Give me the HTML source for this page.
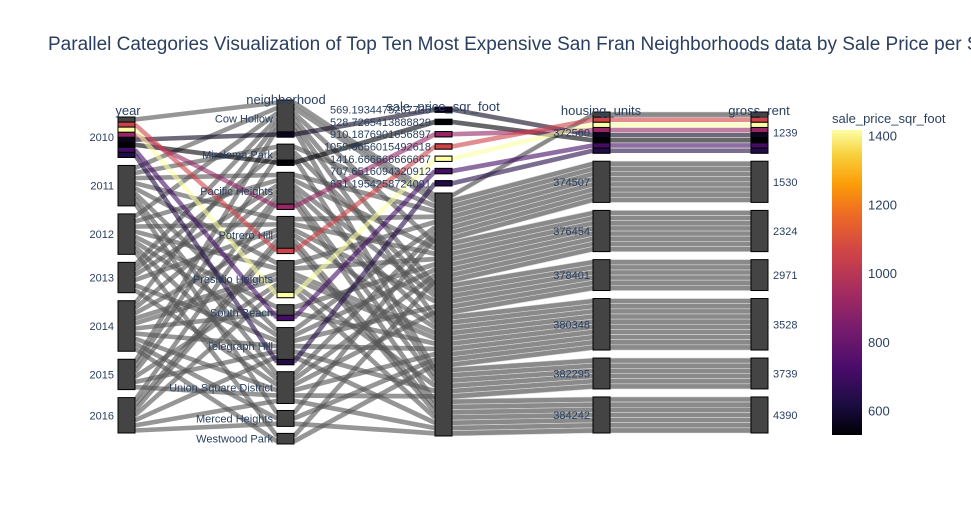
<!DOCTYPE html>
<html><head><meta charset="utf-8">
<style>
html,body{margin:0;padding:0;background:#fff;}
svg{display:block;font-family:"Liberation Sans",Arial,sans-serif;}
</style></head>
<body>
<svg id="chart" width="971" height="525" viewBox="0 0 971 525">
  <defs>
    <linearGradient id="inferno" x1="0" y1="1" x2="0" y2="0">
      <stop offset="0" stop-color="#000004"/>
      <stop offset="0.1" stop-color="#1b0c41"/>
      <stop offset="0.22" stop-color="#4a0c6b"/>
      <stop offset="0.35" stop-color="#781c6d"/>
      <stop offset="0.47" stop-color="#a52c60"/>
      <stop offset="0.6" stop-color="#cf4446"/>
      <stop offset="0.72" stop-color="#ed6925"/>
      <stop offset="0.82" stop-color="#fb9b06"/>
      <stop offset="0.92" stop-color="#f7d13d"/>
      <stop offset="1" stop-color="#fcffa4"/>
    </linearGradient>
  </defs>
  <text x="48" y="50" font-size="19" fill="#2a3f5f">Parallel Categories Visualization of Top Ten Most Expensive San Fran Neighborhoods data by Sale Price per Square Foot</text>
  <g id="ribbons"></g>
  <g id="bars"></g>
  <g id="labels"></g>
  <g>
    <text x="832" y="123" font-size="13" fill="#2a3f5f">sale_price_sqr_foot</text>
    <rect x="832" y="130" width="30" height="305" fill="url(#inferno)"/>
    <g id="cbticks"></g>
  </g>
</svg>
<script>
const years = ["2010","2011","2012","2013","2014","2015","2016"];
const neighborhoods = ["Cow Hollow","Miraloma Park","Pacific Heights","Potrero Hill","Presidio Heights","South Beach","Telegraph Hill","Union Square District","Merced Heights","Westwood Park"];
const priceCats = ["569.1934475267735","528.7265413888829","910.1876901656897","1059.0656015492618","1416.666666666667","707.6516094320912","631.1954258724091"];
const housingUnits = ["372560","374507","376454","378401","380348","382295","384242"];
const grossRent = ["1239","1530","2324","2971","3528","3739","4390"];
const coloredPrice = [569.19, 528.73, 910.19, 1059.07, 1416.67, 707.65, 631.20];
const coloredNeighborhood = [0,1,2,3,4,5,6];
const coloredYearOrder = [3,4,2,0,1,5,6];
const greyMatrix = [
  [1,0,0,0,0,0,0,0,0,0],
  [1,1,1,1,1,0,1,1,1,0],
  [1,0,1,1,1,1,1,1,0,1],
  [1,1,1,1,0,0,1,1,0,0],
  [1,0,1,1,2,1,1,1,1,1],
  [1,1,1,0,1,0,1,1,0,0],
  [0,0,1,2,1,0,1,1,1,0]
];
const cbTicks = [600,800,1000,1200,1400];
const cMin = 528.73, cMax = 1416.67;

const NS="http://www.w3.org/2000/svg";
function mk(t,a,p){const e=document.createElementNS(NS,t);for(const k in a)e.setAttribute(k,a[k]);(p||document.getElementById('chart')).appendChild(e);return e;}

const stops=[[0,[0,0,4]],[0.1,[27,12,65]],[0.22,[74,12,107]],[0.35,[120,28,109]],[0.47,[165,44,96]],[0.6,[207,68,70]],[0.72,[237,105,37]],[0.82,[251,155,6]],[0.92,[247,209,61]],[1,[252,255,164]]];
function colorOf(v){let t=(v-cMin)/(cMax-cMin);t=Math.max(0,Math.min(1,t));for(let i=1;i<stops.length;i++){if(t<=stops[i][0]){const a=stops[i-1],b=stops[i];const f=(t-a[0])/(b[0]-a[0]);const c=a[1].map((x,j)=>Math.round(x+(b[1][j]-x)*f));return `rgb(${c})`;}}return 'rgb(252,255,164)';}

const rows=[];
greyMatrix.forEach((r,yi)=>r.forEach((n,ni)=>{for(let k=0;k<n;k++)rows.push({y:yi,n:ni,p:7,c:null,o:0});}));
coloredPrice.forEach((v,i)=>rows.push({y:0,n:coloredNeighborhood[i],p:i,c:colorOf(v),o:1+coloredYearOrder.indexOf(i)}));

const axes=[
  {key:'y',cats:years.length,x:118,top:117,bot:433,gap:8,title:'year',tx:128,ty:115,labels:years,lx:114,anchor:'end'},
  {key:'n',cats:neighborhoods.length,x:277,top:100,bot:444,gap:7,title:'neighborhood',tx:286,ty:104,labels:neighborhoods,lx:273,anchor:'end'},
  {key:'p',cats:8,x:435,top:107,bot:436,gap:7,title:'sale_price_sqr_foot',tx:443,ty:111,labels:priceCats.concat(['']),lx:431,anchor:'end'},
  {key:'y',cats:housingUnits.length,x:593,top:112,bot:433,gap:8,title:'housing_units',tx:601,ty:115,labels:housingUnits,lx:590,anchor:'end'},
  {key:'y',cats:grossRent.length,x:751,top:112,bot:433,gap:8,title:'gross_rent',tx:759,ty:115,labels:grossRent,lx:773,anchor:'start'}
];
const BW=17;
const N=rows.length;
axes.forEach((ax,ai)=>{
  const counts=new Array(ax.cats).fill(0);rows.forEach(r=>counts[r[ax.key]]++);
  const unit=(ax.bot-ax.top-ax.gap*(ax.cats-1))/N;
  ax.unit=unit;ax.catY=[];let y=ax.top;
  counts.forEach((c,ci)=>{ax.catY.push([y,y+c*unit]);y+=c*unit+ax.gap;});
  for(let ci=0;ci<ax.cats;ci++){
    const rs=rows.filter(r=>r[ax.key]===ci);
    rs.sort((a,b)=>{
      if(ax.key==='n'){if(!!a.c!==!!b.c)return a.c?1:-1;return a.y-b.y||a.p-b.p;}
      if(ax.key==='p'){return a.y-b.y||a.n-b.n;}
      return a.o-b.o||a.n-b.n;
    });
    rs.forEach((r,k)=>{r['s'+ai]=ax.catY[ci][0]+k*unit;});
  }
});

const rg=document.getElementById('ribbons');
const ordered=rows.filter(r=>!r.c).concat(rows.filter(r=>r.c));
ordered.forEach(r=>{
  for(let ai=0;ai<4;ai++){
    const a=axes[ai],b=axes[ai+1];
    const x1=a.x+BW,x2=b.x,y1=r['s'+ai],y2=r['s'+(ai+1)];
    const u1=a.unit,u2=b.unit;
    const col=r.c||'#555';
    if(ai>=2&&!r.c){
      const e=mk('polygon',{points:`${x1},${y1} ${x2},${y2} ${x2},${y2+u2} ${x1},${y1+u1}`,fill:'#8a8a8a',stroke:'#d8d8d8','stroke-width':0.6},rg);
      
      
    } else {
      const e=mk('line',{x1:x1,y1:y1+u1/2,x2:x2,y2:y2+u2/2,stroke:col,'stroke-width':Math.min(u1,u2)*0.9,'stroke-opacity':r.c?0.6:0.62},rg);
      
      
    }
  }
});

const bg=document.getElementById('bars'),lg=document.getElementById('labels');
axes.forEach((ax,ai)=>{
  ax.catY.forEach((yy,ci)=>{
    const e=mk('rect',{x:ax.x,y:yy[0],width:BW,height:yy[1]-yy[0],fill:'#444',stroke:'#000','stroke-width':1},bg);
    
    
    rows.filter(r=>r[ax.key]===ci&&r.c).forEach(r=>{
      const s=mk('rect',{x:ax.x,y:r['s'+ai],width:BW,height:ax.unit,fill:r.c,stroke:'#000','stroke-width':1},bg);
      
      
    });
    const lbl=ax.labels[ci];
    if(lbl){
      const t=mk('text',{x:ax.lx,y:(yy[0]+yy[1])/2+4,'font-size':11,fill:'#2a3f5f','text-anchor':ax.anchor},lg);
      t.textContent=lbl;
      
      
    }
  });
  const t=mk('text',{x:ax.tx,y:ax.ty,'font-size':13,fill:'#2a3f5f','text-anchor':'middle'},lg);
  t.textContent=ax.title;
  
  
});

const cg=document.getElementById('cbticks');
cbTicks.forEach(v=>{
  const y=435-(v-cMin)/(cMax-cMin)*305;
  const t=mk('text',{x:868,y:y+5,'font-size':13,fill:'#2a3f5f'},cg);
  t.textContent=v;
  
  
});
</script>
</body></html>
